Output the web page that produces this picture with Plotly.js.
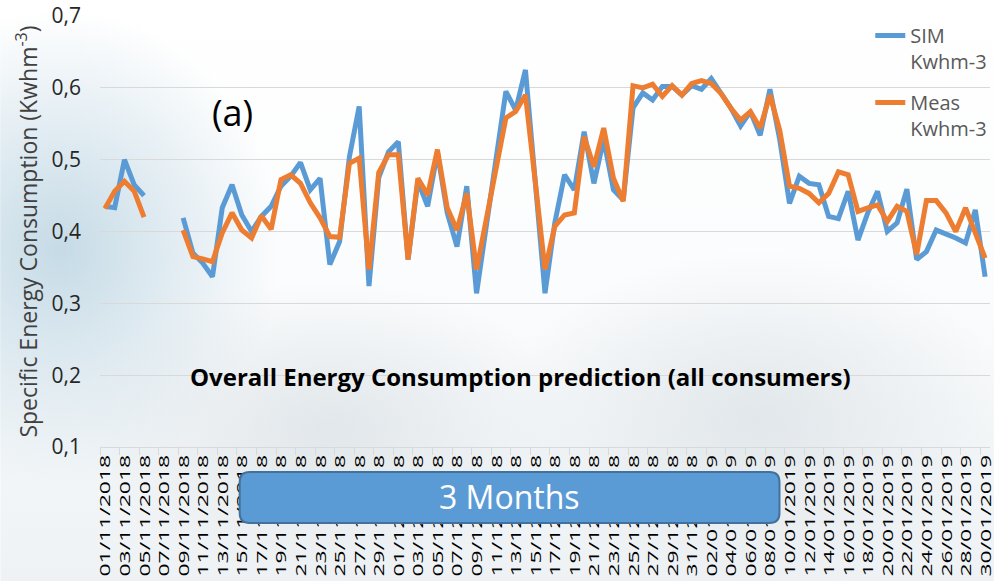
<!DOCTYPE html>
<html>
<head>
<meta charset="utf-8">
<script src="https://cdn.plot.ly/plotly-3.0.1.min.js"></script>
<style>html,body{margin:0;padding:0;background:#fff;}#chart{width:996px;height:581px;}</style>
</head>
<body>
<div id="chart"></div>
<script>
// Dates (categories)
var dates = [
"01/11/2018","02/11/2018","03/11/2018","04/11/2018","05/11/2018","06/11/2018","07/11/2018","08/11/2018","09/11/2018","10/11/2018",
"11/11/2018","12/11/2018","13/11/2018","14/11/2018","15/11/2018","16/11/2018","17/11/2018","18/11/2018","19/11/2018","20/11/2018",
"21/11/2018","22/11/2018","23/11/2018","24/11/2018","25/11/2018","26/11/2018","27/11/2018","28/11/2018","29/11/2018","30/11/2018",
"01/12/2018","02/12/2018","03/12/2018","04/12/2018","05/12/2018","06/12/2018","07/12/2018","08/12/2018","09/12/2018","10/12/2018",
"11/12/2018","12/12/2018","13/12/2018","14/12/2018","15/12/2018","16/12/2018","17/12/2018","18/12/2018","19/12/2018","20/12/2018",
"21/12/2018","22/12/2018","23/12/2018","24/12/2018","25/12/2018","26/12/2018","27/12/2018","28/12/2018","29/12/2018","30/12/2018",
"31/12/2018","01/01/2019","02/01/2019","03/01/2019","04/01/2019","05/01/2019","06/01/2019","07/01/2019","08/01/2019","09/01/2019",
"10/01/2019","11/01/2019","12/01/2019","13/01/2019","14/01/2019","15/01/2019","16/01/2019","17/01/2019","18/01/2019","19/01/2019",
"20/01/2019","21/01/2019","22/01/2019","23/01/2019","24/01/2019","25/01/2019","26/01/2019","27/01/2019","28/01/2019","29/01/2019",
"30/01/2019"
];

// SIM Kwhm-3 (blue)
var simValues = [
0.435,0.433,0.500,0.465,0.450,null,null,null,0.419,0.370,
0.356,0.337,0.433,0.465,0.423,0.400,0.421,0.435,0.463,0.477,
0.496,0.458,0.474,0.354,0.386,0.504,0.574,0.324,0.475,0.511,
0.525,0.361,0.470,0.435,0.510,0.426,0.379,0.463,0.314,0.405,
0.500,0.595,0.569,0.625,0.470,0.314,0.412,0.479,0.458,0.539,
0.467,0.528,0.458,0.444,0.572,0.593,0.583,0.602,0.602,0.590,
0.603,0.598,0.613,0.592,0.572,0.547,0.567,0.534,0.598,0.528,
0.439,0.477,0.467,0.465,0.421,0.418,0.456,0.388,0.426,0.456,
0.400,0.412,0.459,0.361,0.372,0.402,0.397,0.391,0.384,0.430,
0.337
];

// Meas Kwhm-3 (orange)
var measValues = [
0.432,0.456,0.470,0.456,0.420,null,null,null,0.402,0.365,
0.362,0.358,0.398,0.426,0.402,0.391,0.422,0.403,0.472,0.479,
0.467,0.440,0.419,0.393,0.392,0.495,0.502,0.347,0.482,0.507,
0.507,0.361,0.474,0.451,0.514,0.433,0.402,0.453,0.347,0.420,
0.490,0.558,0.567,0.590,0.470,0.347,0.407,0.423,0.426,0.532,
0.490,0.544,0.474,0.442,0.603,0.600,0.605,0.588,0.603,0.590,
0.606,0.610,0.606,0.592,0.572,0.555,0.567,0.544,0.590,0.541,
0.463,0.460,0.453,0.440,0.453,0.483,0.479,0.428,0.433,0.437,
0.414,0.435,0.428,0.368,0.443,0.443,0.426,0.400,0.433,0.398,
0.363
];

var seriesNames = ["SIM<br>Kwhm-3", "Meas<br>Kwhm-3"];
var seriesColors = ["#5B9BD5", "#ED7D31"];

var FONT = "'Open Sans', 'Noto Sans', sans-serif";

var traces = [
  {x: dates, y: simValues, type: 'scatter', mode: 'lines', name: seriesNames[0],
   legendgroup: 'a', connectgaps: false,
   line: {color: seriesColors[0], width: 5, shape: 'linear'}},
  {x: dates, y: measValues, type: 'scatter', mode: 'lines', name: seriesNames[1],
   legendgroup: 'b', connectgaps: false,
   line: {color: seriesColors[1], width: 5, shape: 'linear'}}
];

// background (soft water-like wash)
var bgSvg = "<svg xmlns='http://www.w3.org/2000/svg' width='996' height='581'>" +
  "<defs>" +
  "<linearGradient id='lg' x1='0' y1='0' x2='0' y2='1'><stop offset='0' stop-color='#ffffff'/><stop offset='0.5' stop-color='#fbfcfd'/><stop offset='1' stop-color='#eef2f4'/></linearGradient>" +
  "<radialGradient id='g1' cx='0.5' cy='0.5' r='0.5'><stop offset='0' stop-color='#c3d9e5' stop-opacity='0.95'/><stop offset='1' stop-color='#c3d9e5' stop-opacity='0'/></radialGradient>" +
  "<radialGradient id='g2' cx='0.5' cy='0.5' r='0.5'><stop offset='0' stop-color='#dfe5e9' stop-opacity='0.9'/><stop offset='1' stop-color='#dfe5e9' stop-opacity='0'/></radialGradient>" +
  "</defs>" +
  "<rect width='996' height='581' fill='url(#lg)'/>" +
  "<ellipse cx='60' cy='250' rx='220' ry='240' fill='url(#g1)'/>" +
  "<ellipse cx='330' cy='430' rx='250' ry='150' fill='url(#g2)'/>" +
  "<ellipse cx='760' cy='420' rx='260' ry='170' fill='url(#g2)'/>" +
  "</svg>";
var bgUri = "data:image/svg+xml;charset=utf-8," + encodeURIComponent(bgSvg);

// plot area: x 100..992, y 16..447
function px(v) { return (v - 100) / 892; }
function py(v) { return (447 - v) / 431; }

var bx0 = px(240), bx1 = px(781), byt = py(472), byb = py(523);
var rx = 10 / 892, ry = 10 / 431;
var boxPath = 'M ' + (bx0 + rx) + ',' + byt + ' L ' + (bx1 - rx) + ',' + byt +
  ' Q ' + bx1 + ',' + byt + ' ' + bx1 + ',' + (byt - ry) +
  ' L ' + bx1 + ',' + (byb + ry) +
  ' Q ' + bx1 + ',' + byb + ' ' + (bx1 - rx) + ',' + byb +
  ' L ' + (bx0 + rx) + ',' + byb +
  ' Q ' + bx0 + ',' + byb + ' ' + bx0 + ',' + (byb + ry) +
  ' L ' + bx0 + ',' + (byt - ry) +
  ' Q ' + bx0 + ',' + byt + ' ' + (bx0 + rx) + ',' + byt + ' Z';

var layout = {
  width: 996, height: 581,
  margin: {l: 100, r: 4, t: 16, b: 134, pad: 0},
  paper_bgcolor: '#ffffff',
  plot_bgcolor: 'rgba(0,0,0,0)',
  separators: ', ',
  font: {family: FONT, color: '#262626'},
  showlegend: true,
  legend: {
    x: px(872), xanchor: 'left', y: 1.0, yanchor: 'top',
    bgcolor: 'rgba(0,0,0,0)', valign: 'top', traceorder: 'grouped',
    tracegroupgap: 12,
    font: {family: FONT, size: 20, color: '#595959'}
  },
  xaxis: {
    type: 'category',
    range: [-0.5, 90.5],
    tickmode: 'linear', tick0: 0, dtick: 2,
    tickson: 'boundaries',
    ticks: 'outside', ticklen: 7, tickcolor: '#d9d9d9', tickwidth: 1,
    tickangle: -90,
    tickfont: {family: FONT, size: 17, color: '#000000'},
    showgrid: false, showline: true, linecolor: '#d9d9d9', linewidth: 1,
    zeroline: false, automargin: false
  },
  yaxis: {
    range: [0.1, 0.7],
    tickmode: 'linear', tick0: 0.1, dtick: 0.1, tickformat: '.1f',
    ticks: '', ticklabelstandoff: 18,
    tickfont: {family: FONT, size: 21, color: '#262626'},
    showgrid: true, gridcolor: '#d9d9d9', gridwidth: 1,
    zeroline: false, showline: false, automargin: false,
    title: {text: 'Specific Energy Consumption (Kwhm<sup>-3</sup>)',
            font: {family: FONT, size: 23, color: '#404040'}, standoff: 7}
  },
  images: [{
    source: bgUri, xref: 'paper', yref: 'paper',
    x: px(0), y: py(0), sizex: 996 / 892, sizey: 581 / 431,
    xanchor: 'left', yanchor: 'top', sizing: 'stretch', layer: 'below'
  }],
  shapes: [{
    type: 'path', xref: 'paper', yref: 'paper', path: boxPath,
    fillcolor: '#5B9BD5', line: {color: '#41719C', width: 2}, layer: 'above'
  }],
  annotations: [
    {text: '(a)', xref: 'paper', yref: 'paper', x: px(233), y: py(112),
     showarrow: false, xanchor: 'center', yanchor: 'middle',
     font: {family: FONT, size: 36, color: '#000000'}},
    {text: '<b>Overall Energy Consumption prediction (all consumers)</b>',
     xref: 'paper', yref: 'paper', x: px(521), y: py(376),
     showarrow: false, xanchor: 'center', yanchor: 'middle',
     font: {family: FONT, size: 24, color: '#000000'}},
    {text: '3 Months', xref: 'paper', yref: 'paper', x: px(510), y: py(497),
     showarrow: false, xanchor: 'center', yanchor: 'middle',
     font: {family: FONT, size: 32, color: '#ffffff'}}
  ]
};

Plotly.newPlot('chart', traces, layout, {displayModeBar: false, staticPlot: true}).then(function () {
  // stretch the rotated date labels along their length (about each label's own anchor)
  document.querySelectorAll('.xtick text').forEach(function (t) {
    var tr = t.getAttribute('transform') || '';
    var ax = parseFloat(t.getAttribute('x')) || 0;
    var ay = parseFloat(t.getAttribute('y')) || 0;
    t.setAttribute('transform', tr + ' translate(' + ax + ',' + ay + ') scale(1.35,0.8) translate(' + (-ax) + ',' + (-ay) + ')');
  });
});
</script>
</body>
</html>
